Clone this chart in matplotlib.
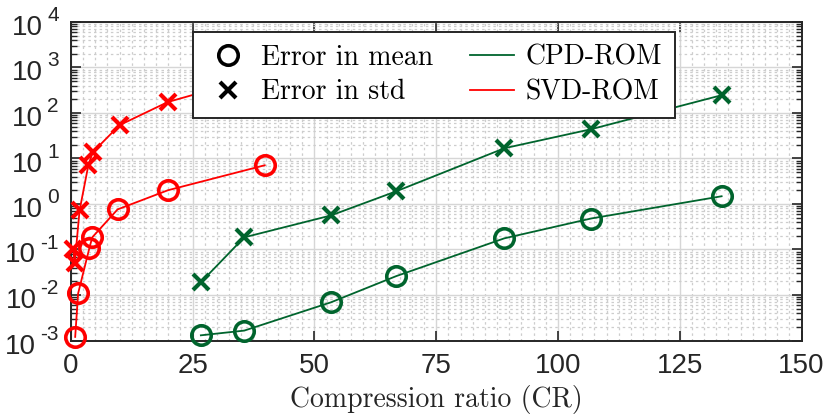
import matplotlib
matplotlib.use("Agg")
from matplotlib import pyplot as plt
from matplotlib.lines import Line2D
from matplotlib.ticker import FixedLocator, LogLocator, MultipleLocator, NullFormatter
from matplotlib.transforms import offset_copy
import numpy as np

# CPD-ROM (green)
cpd_cr = [26.7, 35.6, 53.4, 66.8, 89.0, 106.8, 133.6]
cpd_mean = [1.3e-3, 1.65e-3, 6.9e-3, 2.6e-2, 0.176, 0.48, 1.48]
cpd_std = [1.9e-2, 0.185, 0.56, 1.9, 16.8, 44.0, 246.0]

# SVD-ROM (red)
svd_cr_mean = [0.9, 1.5, 3.8, 4.4, 9.6, 19.9, 39.8]
svd_mean = [1.2e-3, 1.08e-2, 0.106, 0.185, 0.76, 2.0, 7.1]
svd_cr_std = [0.5, 0.8, 1.8, 3.6, 4.5, 10.0, 19.9, 39.8]
svd_std = [0.1, 0.05, 0.72, 7.1, 13.7, 54.0, 174.0, 700.0]

y_exponents = [-3, -2, -1, 0, 1, 2, 3, 4]
x_ticks = [0, 25, 50, 75, 100, 125, 150]

green = '#00642d'
red = '#ff0000'
ink = '#262626'

fig = plt.figure(figsize=(8.3, 4.15), dpi=100)
L, R, T, B = 70.8, 801.5, 22, 340.5
ax = fig.add_axes([L/830, 1-B/415, (R-L)/830, (B-T)/415])

ax.plot(cpd_cr, cpd_mean, color=green, lw=1.3, marker='o', ms=14, mfc='none', mew=2.6, zorder=3, clip_on=False)
ax.plot(cpd_cr, cpd_std, color=green, lw=1.3, marker='x', ms=11, mew=3, zorder=3, clip_on=False)
ax.plot(svd_cr_mean, svd_mean, color=red, lw=1.3, marker='o', ms=14, mfc='none', mew=2.6, zorder=3, clip_on=False)
ax.plot(svd_cr_std, svd_std, color=red, lw=1.3, marker='x', ms=11, mew=3, zorder=3, clip_on=False)

ax.set_yscale('log')
ax.set_xlim(0, 150)
ax.set_ylim(1e-3, 1e4)
ax.xaxis.set_major_locator(FixedLocator(x_ticks))
ax.xaxis.set_minor_locator(MultipleLocator(2.5))
ax.yaxis.set_major_locator(FixedLocator([10.0**k for k in y_exponents]))
ax.yaxis.set_minor_locator(LogLocator(base=10, subs=np.arange(2, 10), numticks=20))
ax.yaxis.set_minor_formatter(NullFormatter())

ax.grid(which='major', color='#d6d6d6', lw=1.0, ls='-')
ax.grid(which='minor', color='#cdcdcd', lw=0.9, ls=(0, (2, 2.5)))
ax.set_axisbelow(True)

ax.tick_params(which='both', direction='in', top=True, right=True, colors=ink, labelcolor=ink)
ax.tick_params(which='major', length=7, width=1.2)
ax.tick_params(axis='x', which='major', labelsize=20, pad=9)
ax.tick_params(axis='y', which='major', labelleft=False)
ax.tick_params(axis='x', which='minor', length=0)
ax.tick_params(axis='y', which='minor', length=4, width=1.0)
for lab in ax.get_xticklabels():
    lab.set_family('Liberation Sans')
for s in ax.spines.values():
    s.set_color(ink)
    s.set_linewidth(1.4)

# MATLAB style log labels: "10" with a large raised exponent
ytrans = ax.get_yaxis_transform()
for k in y_exponents:
    ex = ax.text(0, 10.0**k, str(k), transform=offset_copy(ytrans, fig=fig, x=-12, y=1, units='dots'),
                 ha='right', va='baseline', fontsize=15, family='Liberation Sans', color=ink, clip_on=False)
    ax.annotate('10', xy=(0, 10.0**k), xycoords=(ex, ytrans), xytext=(-4, -13), textcoords='offset pixels',
                ha='right', va='baseline', fontsize=20, family='Liberation Sans', color=ink, annotation_clip=False)

ax.set_xlabel('Compression ratio (CR)', family='cmr10', fontsize=20, color=ink, labelpad=4)

handles = [
    Line2D([], [], ls='none', marker='o', ms=14, mfc='none', mec='black', mew=2.6),
    Line2D([], [], ls='none', marker='x', ms=11, mec='black', mew=3),
    Line2D([], [], color=green, lw=1.3),
    Line2D([], [], color=red, lw=1.3),
]
labels = ['Error in mean', 'Error in std', 'CPD-ROM', 'SVD-ROM']
leg = ax.legend(handles, labels, ncol=2, loc='upper left', bbox_to_anchor=(0.167, 0.9686),
                borderaxespad=0, frameon=True, fancybox=False, framealpha=1,
                prop={'family': 'cmr10', 'size': 20}, handlelength=1.6, columnspacing=1.3,
                handletextpad=0.42, labelspacing=0.3, borderpad=0.45)
leg.get_frame().set_edgecolor(ink)
leg.get_frame().set_linewidth(1.4)
leg.set_zorder(5)

fig.savefig('out.png', dpi=100)
